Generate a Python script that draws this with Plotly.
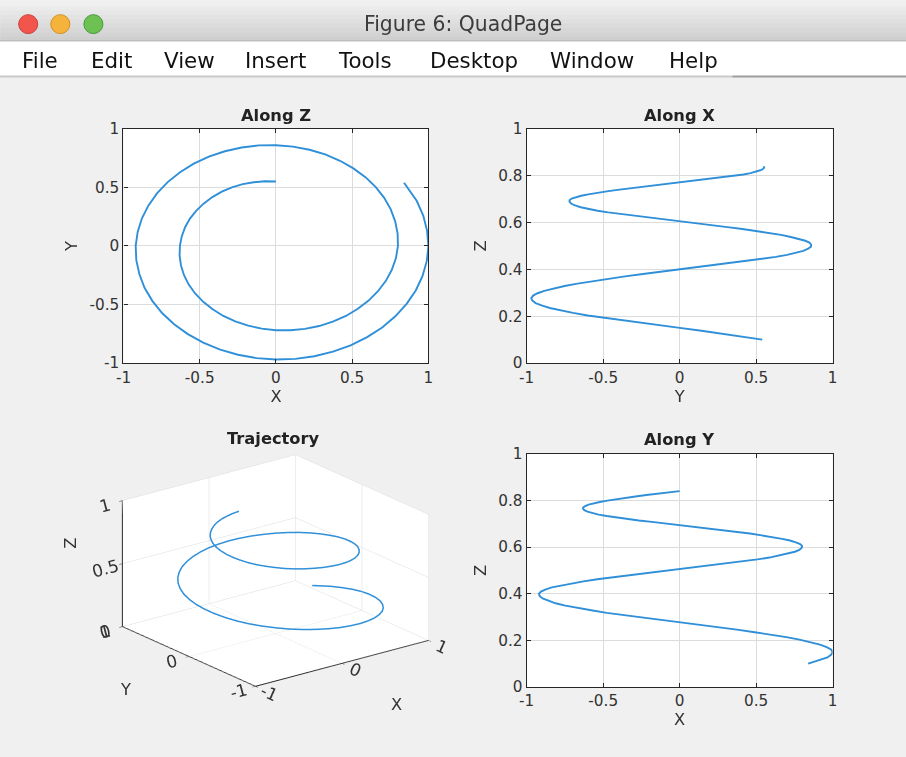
import plotly.graph_objects as go

# ---- trajectory samples (helix with slowly shrinking radius, rising in z) ----
x_vals = [0.840, 0.924, 0.966, 0.991, 1.000, 0.989, 0.961, 0.917, 0.857, 0.783,
          0.697, 0.598, 0.490, 0.374, 0.252, 0.127, 0.000, -0.126, -0.249, -0.366,
          -0.477, -0.578, -0.668, -0.747, -0.811, -0.862, -0.896, -0.916, -0.920, -0.907,
          -0.879, -0.836, -0.779, -0.710, -0.629, -0.539, -0.440, -0.335, -0.225, -0.113,
          0.000, 0.112, 0.220, 0.323, 0.420, 0.508, 0.587, 0.655, 0.710, 0.753,
          0.782, 0.798, 0.800, 0.787, 0.760, 0.721, 0.669, 0.608, 0.537, 0.459,
          0.373, 0.283, 0.190, 0.095, 0.000, -0.093, -0.182, -0.267, -0.345, -0.415,
          -0.477, -0.530, -0.572, -0.603, -0.623, -0.632, -0.630, -0.618, -0.596, -0.564,
          -0.522, -0.473, -0.417, -0.355, -0.289, -0.218, -0.146, -0.073, 0.000]
y_vals = [0.540, 0.383, 0.259, 0.131, 0.000, -0.130, -0.258, -0.380, -0.495, -0.601,
          -0.697, -0.779, -0.849, -0.903, -0.942, -0.964, -0.970, -0.958, -0.929, -0.885,
          -0.825, -0.753, -0.668, -0.573, -0.469, -0.357, -0.240, -0.121, 0.000, 0.119,
          0.236, 0.346, 0.450, 0.545, 0.629, 0.702, 0.762, 0.808, 0.840, 0.858,
          0.860, 0.848, 0.821, 0.781, 0.727, 0.662, 0.587, 0.502, 0.410, 0.312,
          0.210, 0.105, 0.000, -0.104, -0.204, -0.298, -0.387, -0.467, -0.537, -0.598,
          -0.647, -0.684, -0.708, -0.720, -0.720, -0.706, -0.681, -0.644, -0.598, -0.541,
          -0.477, -0.406, -0.330, -0.250, -0.167, -0.083, 0.000, 0.081, 0.160, 0.233,
          0.302, 0.363, 0.417, 0.463, 0.500, 0.527, 0.544, 0.552, 0.550]
z_vals = [0.100, 0.116, 0.127, 0.139, 0.150, 0.161, 0.171, 0.182, 0.192, 0.203,
          0.214, 0.225, 0.235, 0.246, 0.256, 0.267, 0.277, 0.288, 0.298, 0.308,
          0.318, 0.329, 0.339, 0.349, 0.359, 0.370, 0.380, 0.390, 0.400, 0.409,
          0.418, 0.427, 0.435, 0.444, 0.453, 0.462, 0.470, 0.479, 0.488, 0.497,
          0.505, 0.514, 0.522, 0.530, 0.538, 0.547, 0.555, 0.564, 0.572, 0.580,
          0.588, 0.597, 0.605, 0.613, 0.620, 0.628, 0.635, 0.643, 0.650, 0.658,
          0.665, 0.673, 0.680, 0.688, 0.695, 0.702, 0.708, 0.714, 0.720, 0.727,
          0.733, 0.739, 0.745, 0.752, 0.758, 0.764, 0.770, 0.776, 0.782, 0.788,
          0.793, 0.799, 0.805, 0.811, 0.817, 0.823, 0.828, 0.834, 0.840]

# ---- tick definitions ----
sym_ticks = [-1, -0.5, 0, 0.5, 1]
sym_labels = ["-1", "-0.5", "0", "0.5", "1"]
unit_ticks = [0, 0.2, 0.4, 0.6, 0.8, 1]
unit_labels = ["0", "0.2", "0.4", "0.6", "0.8", "1"]
cube_xy_ticks = [-1, 0, 1]
cube_xy_labels = ["-1", "0", "1"]
cube_z_ticks = [0, 0.5, 1]
cube_z_labels = ["0", "0.5", "1"]

window_title = "Figure 6: QuadPage"
menu_items = ["File", "Edit", "View", "Insert", "Tools", "Desktop", "Window", "Help"]
menu_left = [20, 89, 161, 242, 335, 427, 546, 665]
panel_titles = ["Along Z", "Along X", "Trajectory", "Along Y"]

# Layout positions below are window pixels. The page keeps the browser's
# 8px body margin and the view is fitted to the window, so window pixels are
# converted to figure pixels before use.
W, H = 906, 757
OFF = 8
SX = W / (W + 2 * OFF)
SY = H / (H + 2 * OFF)
FS = 1 / SX  # font/line compensation for the fitted view

LINE = "#2f8fd8"
AX = "#262626"
GRID = "#dcdcdc"
FONT = "DejaVu Sans"
TICKFONT = dict(family=FONT, size=15 * FS, color="#333333")
LABELFONT = dict(family=FONT, size=16 * FS, color="#333333")


def px(x):
    return (x / SX - OFF) / W


def py(y):
    return 1 - (y / SY - OFF) / H


def axis2d(dom, rng, tv, tt, title, anchor, is_x):
    return dict(
        domain=dom, range=rng, tickvals=tv, ticktext=tt,
        ticks="inside", ticklen=4, tickcolor=AX, tickwidth=1,
        showline=True, linecolor=AX, linewidth=1.3, mirror="ticks",
        showgrid=True, gridcolor=GRID, gridwidth=1, zeroline=False,
        tickfont=TICKFONT, anchor=anchor,
        title=dict(text=title, font=LABELFONT, standoff=1 if is_x else 7),
    )


fig = go.Figure()

# Along Z: X vs Y
fig.add_trace(go.Scatter(x=x_vals, y=y_vals, mode="lines", line=dict(color=LINE, width=1.9),
                         xaxis="x", yaxis="y", showlegend=False, hoverinfo="skip"))
# Along X: Y vs Z
fig.add_trace(go.Scatter(x=y_vals, y=z_vals, mode="lines", line=dict(color=LINE, width=1.9),
                         xaxis="x2", yaxis="y2", showlegend=False, hoverinfo="skip"))
# Along Y: X vs Z
fig.add_trace(go.Scatter(x=x_vals, y=z_vals, mode="lines", line=dict(color=LINE, width=1.9),
                         xaxis="x3", yaxis="y3", showlegend=False, hoverinfo="skip"))
# Trajectory in 3D
fig.add_trace(go.Scatter3d(x=x_vals, y=y_vals, z=z_vals, mode="lines", line=dict(color=LINE, width=3),
                           scene="scene", showlegend=False, hoverinfo="skip"))

row1 = [py(363), py(128)]
row2 = [py(688), py(454)]
col1 = [px(123), px(427)]
col2 = [px(525), px(830)]


def axis3d(tv, tt, rng):
    return dict(
        range=rng, tickvals=tv, ticktext=tt, autorange=False,
        showbackground=True, backgroundcolor="white",
        showgrid=True, gridcolor=GRID, gridwidth=1,
        showline=True, linecolor=AX, linewidth=2,
        ticks="inside", ticklen=4, tickcolor=AX,
        zeroline=False, showspikes=False,
        tickfont=dict(family=FONT, size=14 * FS, color="#333333"), title=dict(text=""),
    )


# orthographic view (az -37.5 deg); the box size follows the aspect ratio
d = (-0.572, -0.744, 0.345)
k = 2.0
box = 1.565
fig.update_layout(
    width=W, height=H,
    margin=dict(l=0, r=0, t=0, b=0),
    paper_bgcolor="#f0f0f0", plot_bgcolor="white",
    xaxis=axis2d(col1, [-1, 1], sym_ticks, sym_labels, "X", "y", True),
    yaxis=axis2d(row1, [-1, 1], sym_ticks, sym_labels, "Y", "x", False),
    xaxis2=axis2d(col2, [-1, 1], sym_ticks, sym_labels, "Y", "y2", True),
    yaxis2=axis2d(row1, [0, 1], unit_ticks, unit_labels, "Z", "x2", False),
    xaxis3=axis2d(col2, [-1, 1], sym_ticks, sym_labels, "X", "y3", True),
    yaxis3=axis2d(row2, [0, 1], unit_ticks, unit_labels, "Z", "x3", False),
    scene=dict(
        domain=dict(x=[px(82), px(468)], y=[py(711), py(431)]),
        xaxis=axis3d(cube_xy_ticks, cube_xy_labels, [-1, 1]),
        yaxis=axis3d(cube_xy_ticks, cube_xy_labels, [-1, 1]),
        zaxis=axis3d(cube_z_ticks, cube_z_labels, [0, 1]),
        aspectmode="manual", aspectratio=dict(x=box, y=box, z=0.615 * box),
        camera=dict(eye=dict(x=d[0] * k, y=d[1] * k, z=d[2] * k),
                    center=dict(x=0, y=0, z=0), up=dict(x=0, y=0, z=1),
                    projection=dict(type="orthographic")),
        bgcolor="rgba(0,0,0,0)",
    ),
)

shapes = []
# window chrome: title bar gradient, menu bar
grad = ["#ebebeb", "#e7e7e7", "#e3e3e3", "#dfdfdf", "#dbdbdb", "#d7d7d7", "#d3d3d3", "#cfcfcf"]
top = 5
band = (40 - top) / len(grad)
for i, c in enumerate(grad):
    y0 = top + i * band
    shapes.append(dict(type="rect", xref="paper", yref="paper", x0=px(0), x1=px(906),
                       y0=py(y0 + band + 0.5), y1=py(y0), fillcolor=c, line=dict(width=0), layer="below"))
shapes.append(dict(type="line", xref="paper", yref="paper", x0=px(0), x1=px(906), y0=py(40), y1=py(40),
                   line=dict(color="#a9a9a9", width=1), layer="below"))
shapes.append(dict(type="rect", xref="paper", yref="paper", x0=px(0), x1=px(906), y0=py(75), y1=py(40.5),
                   fillcolor="white", line=dict(width=0), layer="below"))
shapes.append(dict(type="line", xref="paper", yref="paper", x0=px(0), x1=px(730), y0=py(75.5), y1=py(75.5),
                   line=dict(color="#c9c9c9", width=2), layer="below"))
shapes.append(dict(type="line", xref="paper", yref="paper", x0=px(730), x1=px(906), y0=py(75.5), y1=py(75.5),
                   line=dict(color="#9c9c9c", width=2), layer="below"))
# traffic-light buttons
for cx, fill, edge in [(28, "#f2554c", "#c6403a"), (60, "#f6b33c", "#cf8f22"), (93, "#6cc152", "#45993a")]:
    r = 9.5
    shapes.append(dict(type="circle", xref="paper", yref="paper",
                       x0=px(cx - r), x1=px(cx + r), y0=py(23 + r), y1=py(23 - r),
                       fillcolor=fill, line=dict(color=edge, width=1)))

annotations = []
annotations.append(dict(text=window_title, x=px(461), y=py(23), xref="paper", yref="paper",
                        showarrow=False, xanchor="center", yanchor="middle",
                        font=dict(family=FONT, size=20 * FS, color="#3c3c3c")))
for name, xl in zip(menu_items, menu_left):
    annotations.append(dict(text=name, x=px(xl), y=py(59), xref="paper", yref="paper",
                            showarrow=False, xanchor="left", yanchor="middle",
                            font=dict(family=FONT, size=21 * FS, color="#111111")))
title_pos = [(275, 115), (677, 115), (273, 439), (677, 440)]
for t, (tx, ty) in zip(panel_titles, title_pos):
    annotations.append(dict(text="<b>%s</b>" % t, x=px(tx), y=py(ty), xref="paper", yref="paper",
                            showarrow=False, xanchor="center", yanchor="middle",
                            font=dict(family=FONT, size=16 * FS, color="#222222")))
# axis names of the 3D box
for t, (tx, ty) in zip(["X", "Y", "Z"], [(395, 706), (125, 690), (70, 544)]):
    annotations.append(dict(text=t, x=px(tx), y=py(ty), xref="paper", yref="paper",
                            showarrow=False, xanchor="center", yanchor="middle",
                            textangle=-90 if t == "Z" else 0, font=LABELFONT))

fig.update_layout(shapes=shapes, annotations=annotations)

fig.write_html("out.html")
